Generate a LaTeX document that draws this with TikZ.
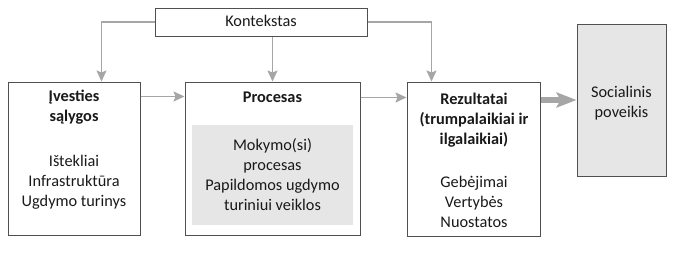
\documentclass[tikz,border=0pt]{standalone}
\usepackage{fontspec}
\setmainfont{Carlito}
\usetikzlibrary{arrows.meta}
\definecolor{boxline}{HTML}{505050}
\definecolor{arrowgray}{HTML}{A6A6A6}
\definecolor{fillgray}{HTML}{E6E6E7}
\begin{document}
\begin{tikzpicture}[x=1pt,y=-1pt,
  box/.style={draw=boxline, line width=1pt, inner sep=0pt},
  txt/.style={font=\fontsize{16.3}{20}\selectfont, align=center, inner sep=0pt, text=black!90},
  btxt/.style={txt, font=\fontsize{16.3}{20}\selectfont\bfseries},
  conn/.style={draw=arrowgray, line width=1.5pt, -{Stealth[length=11pt,width=10pt,inset=2pt]}},
  thick conn/.style={draw=arrowgray, line width=5.5pt, -{Stealth[length=20pt,width=15pt,inset=4pt]}}]
\useasboundingbox (0,0) rectangle (675,252);
% boxes
\node[box, minimum width=212pt, minimum height=28pt] (ctx) at (261,22) {};
\node[box, minimum width=132pt, minimum height=153pt] (inp) at (74,158.5) {};
\node[box, minimum width=175pt, minimum height=153pt] (proc) at (272.5,158.5) {};
\node[fill=fillgray, inner sep=0pt, minimum width=161pt, minimum height=100pt] (inner) at (272.5,175) {};
\node[box, minimum width=133pt, minimum height=154pt] (res) at (473.5,159) {};
\node[box, fill=fillgray, minimum width=89pt, minimum height=152pt] (soc) at (621.5,100) {};
% texts
\node[txt] (ctxt) at (261,21) {Kontekstas};
\node[btxt] (inpt) at (74,107) {Įvesties\\sąlygos};
\node[txt] (inpl) at (74,182) {Ištekliai\\Infrastruktūra\\Ugdymo turinys};
\node[btxt] (proct) at (272.5,97) {Procesas};
\node[txt] (innert) at (272.5,175) {Mokymo(si)\\procesas\\Papildomos ugdymo\\turiniui veiklos};
\node[btxt] (rest) at (474,120) {Rezultatai\\(trumpalaikiai ir\\ilgalaikiai)};
\node[txt] (resl) at (474,201.5) {Gebėjimai\\Vertybės\\Nuostatos};
\node[txt] (soct) at (621.5,103) {Socialinis\\poveikis};
% connectors
\draw[conn] (ctx.west) -| ([xshift=94pt]inp.north west);
\draw[conn] (proc.north |- ctx.south) -- (proc.north);
\draw[conn] (ctx.east) -| ([xshift=25pt]res.north west);
\draw[conn] ([yshift=-15pt]inp.north east) -- ([yshift=-15pt]proc.north west);
\draw[conn] ([yshift=-16pt]proc.north east) -- ([yshift=-16pt]res.north west);
\draw[thick conn] (res.east |- soc.west) -- (soc.west);
\end{tikzpicture}
\end{document}
